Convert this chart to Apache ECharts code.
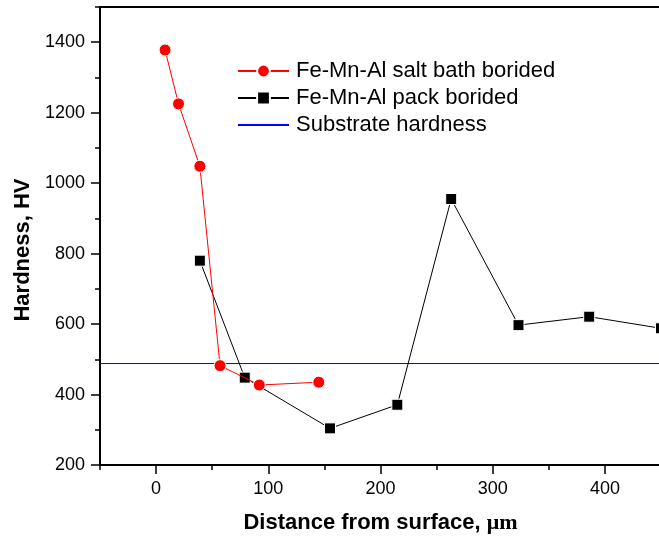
<!DOCTYPE html>
<html>
<head>
<meta charset="utf-8">
<script src="https://cdn.jsdelivr.net/npm/echarts@6/dist/echarts.min.js"></script>
<style>
  html, body { margin: 0; padding: 0; background: #fff; }
  #chart { width: 659px; height: 538px; }
</style>
</head>
<body>
<div id="chart"></div>
<script>
// hardness profile
const saltBathDepth = [8, 20, 39, 57, 92, 145]
const saltBathHardness = [1378, 1225, 1048, 482, 427, 435]
const packDepth = [39, 79, 155, 215, 263, 323, 386, 450]
const packHardness = [780, 448, 304, 371, 955, 597, 621, 588]
const substrateDepth = [-50, 450]
const substrateHardness = [488, 488]
const xTicks = [0, 100, 200, 300, 400]
const yTicks = [200, 400, 600, 800, 1000, 1200, 1400]

const font = 'Liberation Sans, Arial, sans-serif'
const pairs = (xs, ys) => xs.map((x, i) => [x, ys[i]])

const chart = echarts.init(document.getElementById('chart'), null, { renderer: 'canvas' })
const option = {
    animation: false,
    backgroundColor: '#fff',
    grid: {
        left: 100, top: 7, right: -2, bottom: 73,
        outerBoundsMode: 'none',
        containLabel: false,
        show: true, borderColor: '#000', borderWidth: 2,
    },
    legend: {
        orient: 'vertical',
        left: 232,
        top: 55,
        itemWidth: 51,
        itemHeight: 16,
        itemGap: 5,
        textStyle: { fontFamily: font, fontSize: 22, color: '#000', lineHeight: 22, padding: [0, 0, 0, 2] },
        data: [
            'Fe-Mn-Al salt bath borided',
            'Fe-Mn-Al pack borided',
            { name: 'Substrate hardness', itemStyle: { opacity: 0 } },
        ],
    },
    xAxis: [
        {
            type: 'value', min: -50, max: 450, interval: 50, position: 'bottom',
            name: '{a|Distance from surface, }{b|μm}',
            nameLocation: 'middle', nameGap: 47,
            nameTextStyle: {
                rich: {
                    a: { fontFamily: font, fontSize: 22, fontWeight: 'bold', color: '#000' },
                    b: { fontFamily: 'Liberation Serif, Times New Roman, serif', fontSize: 22, fontWeight: 'bold', color: '#000' },
                },
            },
            axisLine: { show: true, onZero: false, lineStyle: { color: '#000', width: 2 } },
            axisTick: { show: true, length: 5, lineStyle: { color: '#000', width: 1.5 } },
            axisLabel: {
                fontFamily: font, fontSize: 18, color: '#000', margin: 15,
                formatter: v => (xTicks.includes(v) ? String(v) : ''),
            },
            splitLine: { show: false },
        },
        {
            // long ticks at the labelled values
            type: 'value', min: -50, max: 450, position: 'bottom',
            axisLine: { show: false, onZero: false },
            axisTick: { show: true, customValues: xTicks, length: 9, lineStyle: { color: '#000', width: 1.5 } },
            axisLabel: { show: false },
            splitLine: { show: false },
        },
    ],
    yAxis: [
        {
            type: 'value', min: 200, max: 1500, interval: 100, position: 'left',
            name: 'Hardness, HV',
            nameLocation: 'middle', nameGap: 66,
            nameTextStyle: { fontFamily: font, fontSize: 22, fontWeight: 'bold', color: '#000', padding: [0, 28, 0, 0] },
            axisLine: { show: true, onZero: false, lineStyle: { color: '#000', width: 2 } },
            axisTick: { show: true, length: 5, lineStyle: { color: '#000', width: 1.5 } },
            axisLabel: {
                fontFamily: font, fontSize: 18, color: '#000', margin: 15,
                formatter: v => (yTicks.includes(v) ? String(v) : ''),
            },
            splitLine: { show: false },
        },
        {
            type: 'value', min: 200, max: 1500, position: 'left',
            axisLine: { show: false, onZero: false },
            axisTick: { show: true, customValues: yTicks, length: 9, lineStyle: { color: '#000', width: 1.5 } },
            axisLabel: { show: false },
            splitLine: { show: false },
        },
    ],
    series: [
        {
            name: 'Fe-Mn-Al salt bath borided',
            type: 'line',
            data: pairs(saltBathDepth, saltBathHardness),
            symbol: 'circle',
            symbolSize: 12,
            lineStyle: { color: '#ff0000', width: 1 },
            itemStyle: { color: '#ff0000', borderColor: '#fff', borderWidth: 1 },
            z: 3,
        },
        {
            name: 'Fe-Mn-Al pack borided',
            type: 'line',
            data: pairs(packDepth, packHardness),
            symbol: 'rect',
            symbolSize: 11,
            lineStyle: { color: '#000', width: 1 },
            itemStyle: { color: '#000', borderColor: '#fff', borderWidth: 1 },
            z: 2,
        },
        {
            name: 'Substrate hardness',
            type: 'line',
            data: pairs(substrateDepth, substrateHardness),
            symbol: 'none',
            lineStyle: { color: '#0000ff', width: 1 },
            itemStyle: { color: '#0000ff' },
            z: 1,
        },
    ],
}
chart.setOption(option)
window.addEventListener('resize', () => chart.resize())
</script>
</body>
</html>
